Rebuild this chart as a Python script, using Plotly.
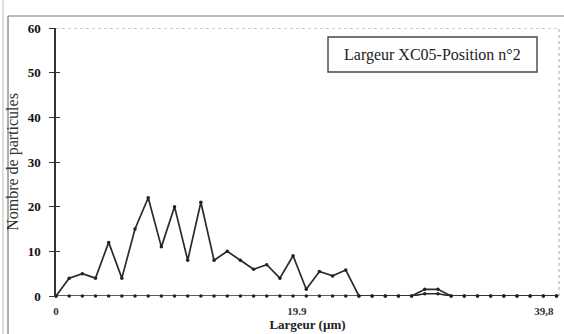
import plotly.graph_objects as go

# Data
bin_width = 1.05
counts_main = [0, 4, 5, 4, 12, 4, 15, 22, 11, 20, 8, 21, 8, 10, 8, 6, 7, 4, 9, 1.5,
               5.5, 4.5, 5.8, 0, 0, 0, 0, 0, 1.5, 1.5, 0, 0, 0, 0, 0, 0, 0, 0, 0, 0]
counts_second = [0] * 28 + [0.5, 0.5] + [0] * 10
x_vals = [round(i * bin_width, 3) for i in range(len(counts_main))]

y_ticks = [0, 10, 20, 30, 40, 50, 60]
x_tickvals = [0, 19.2, 38.9]
x_ticktext = ["0", "19.9", "39,8"]

legend_text = "Largeur XC05-Position n°2"
y_title = "Nombre de particules"
x_title = "Largeur (µm)"

FONT = "Liberation Serif"
LINE = "#2a2a2a"

L, R, T, B = 56, 5, 28, 38
PW, PH = 564 - L - R, 334 - T - B


def px(xp):
    return (xp - L) / PW


def py(yp):
    return (334 - B - yp) / PH


fig = go.Figure()
fig.add_trace(go.Scatter(x=x_vals, y=counts_second, mode="lines+markers",
                         line=dict(color=LINE, width=1.7),
                         marker=dict(color="#222", size=3.5),
                         cliponaxis=False, showlegend=False))
fig.add_trace(go.Scatter(x=x_vals, y=counts_main, mode="lines+markers",
                         line=dict(color=LINE, width=1.7),
                         marker=dict(color="#222", size=3.5),
                         cliponaxis=False, showlegend=False))
fig.add_trace(go.Scatter(x=[None], y=[None], yaxis="y2", showlegend=False))

fig.update_layout(
    width=564, height=334,
    margin=dict(l=L, r=R, t=T, b=B),
    paper_bgcolor="white", plot_bgcolor="white",
    font=dict(family=FONT, color="#222"),
    xaxis=dict(range=[0, 40.1], showgrid=False, zeroline=False, showline=False,
               automargin=False,
               tickvals=x_tickvals, ticktext=x_ticktext, ticks="",
               ticklabelstandoff=7,
               tickfont=dict(size=11, family=FONT, color="#333", weight="bold"),
               title=dict(text=x_title,
                          font=dict(size=13, family=FONT, color="#222", weight="bold"),
                          standoff=0)),
    yaxis=dict(range=[0, 60], showgrid=False, zeroline=False, showline=True,
               automargin=False,
               linecolor="#333", linewidth=1.5,
               tickvals=y_ticks, ticks="outside", ticklen=5, tickcolor="#333",
               tickwidth=1.2, ticklabelstandoff=6,
               tickfont=dict(size=13, family=FONT, color="#111", weight="bold"),
               title=dict(text=y_title, font=dict(size=16, family=FONT, color="#333"),
                          standoff=5)),
    yaxis2=dict(range=[0, 60], overlaying="y", side="left", showgrid=False,
                automargin=False,
                zeroline=False, tickvals=y_ticks, ticks="inside", ticklen=4,
                tickcolor="#333", tickwidth=1.2, showticklabels=False),
)

shapes = [
    # dotted top gridline and right border
    dict(type="line", xref="paper", yref="y", x0=0, x1=1, y0=60, y1=60,
         line=dict(color="#999", width=1, dash="dot")),
    dict(type="line", xref="paper", yref="paper", x0=px(559), x1=px(559), y0=0, y1=1,
         line=dict(color="#aaa", width=1, dash="dot")),
    # outer frame
    dict(type="line", xref="paper", yref="paper", x0=px(8), x1=px(570), y0=py(16), y1=py(16),
         line=dict(color="#777", width=1.2)),
    dict(type="line", xref="paper", yref="paper", x0=px(8), x1=px(8), y0=py(340), y1=py(16),
         line=dict(color="#777", width=1.2)),
    dict(type="line", xref="paper", yref="paper", x0=px(3), x1=px(3), y0=py(340), y1=py(0),
         line=dict(color="#bbb", width=1)),
    # label box
    dict(type="rect", xref="paper", yref="paper",
         x0=px(328), x1=px(537), y0=py(72), y1=py(37),
         fillcolor="white", line=dict(color="#444", width=1.4)),
]
fig.update_layout(shapes=shapes)
fig.add_annotation(x=px(432), y=py(55), xref="paper", yref="paper",
                   xanchor="center", yanchor="middle",
                   text=legend_text, showarrow=False,
                   font=dict(size=16, family=FONT, color="#222"))

fig.write_html("out.html", config={"displayModeBar": False},
               post_script="document.body.style.margin='0';"
                           "document.body.style.overflow='hidden';")
